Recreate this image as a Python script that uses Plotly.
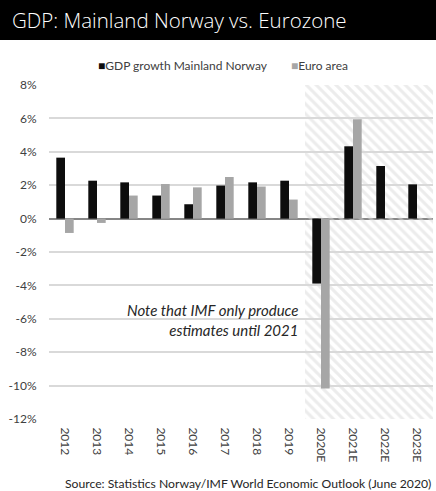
import plotly.graph_objects as go

categories = ["2012", "2013", "2014", "2015", "2016", "2017", "2018", "2019",
              "2020E", "2021E", "2022E", "2023E"]
norway = [3.65, 2.27, 2.17, 1.38, 0.86, 1.98, 2.17, 2.27, -3.89, 4.33, 3.15, 2.05]
euro = [-0.86, -0.26, 1.38, 2.07, 1.87, 2.49, 1.92, 1.14, -10.18, 5.95, None, None]
y_ticks = [8, 6, 4, 2, 0, -2, -4, -6, -8, -10, -12]
y_min, y_max = -12, 8

series_names = ["GDP growth Mainland Norway", "Euro area"]
series_colors = ["#0d0d0d", "#a6a6a6"]

title_text = "GDP: Mainland Norway vs. Eurozone"
note_text = "Note that IMF only produce<br>estimates until 2021"
source_text = "Source: Statistics Norway/IMF World Economic Outlook (June 2020)"

FONT = "Lato"
W, H = 436, 491
ML, MR, MT, MB = 49, 3, 85, 72
plot_w = W - ML - MR
plot_h = H - MT - MB

# forecast region derived from categories (those ending with 'E')
fc_idx = [i for i, c in enumerate(categories) if c.endswith("E")]

fig = go.Figure()

# hatched forecast background, drawn beneath the data bars
fig.add_trace(go.Bar(
    x=[categories[fc_idx[0]]], y=[y_max - y_min], base=[y_min],
    width=[len(fc_idx)], offset=[-0.5],
    alignmentgroup="bg", offsetgroup="bg",
    marker=dict(color="rgba(0,0,0,0)", line=dict(width=0),
                pattern=dict(shape="\\", fgcolor="#dadada", bgcolor="rgba(0,0,0,0)",
                             size=7, solidity=0.45, fillmode="overlay")),
    showlegend=False, hoverinfo="skip",
))

for name, vals, col in zip(series_names, [norway, euro], series_colors):
    fig.add_trace(go.Bar(x=categories, y=vals, name=name,
                         alignmentgroup="data", offsetgroup=name,
                         marker=dict(color=col, line=dict(width=0)),
                         showlegend=False))

legend_anns = []
for name, col, px in zip(series_names, series_colors, [96, 289]):
    legend_anns.append(dict(
        text=f"<span style='color:{col}'>■</span>{name}",
        xref="paper", yref="paper", x=(px - ML) / plot_w, xanchor="left",
        y=1 + (MT - 66) / plot_h, yanchor="middle", showarrow=False,
        font=dict(size=12, color="#404040")))

fig.update_layout(
    template="none",
    width=W, height=H,
    margin=dict(l=ML, r=MR, t=MT, b=MB, autoexpand=False),
    paper_bgcolor="white", plot_bgcolor="white",
    font=dict(family=FONT, size=12, color="#404040"),
    barmode="group", bargap=0.456, bargroupgap=0,
    showlegend=False,
    xaxis=dict(type="category", categoryorder="array", categoryarray=categories,
               range=[-0.5, len(categories) - 0.5], automargin=False,
               tickangle=90, showgrid=False, showline=False, zeroline=False,
               ticks="outside", ticklen=5, tickcolor="rgba(255,255,255,0)",
               tickfont=dict(size=12, color="#404040")),
    yaxis=dict(range=[y_min, y_max], tickvals=y_ticks, automargin=False,
               ticktext=[f"{v}%" for v in y_ticks],
               showgrid=True, gridcolor="#d9d9d9", gridwidth=1.5,
               zeroline=True, zerolinecolor="#868686", zerolinewidth=1.5,
               showline=False, ticks="outside", ticklen=9,
               tickcolor="rgba(255,255,255,0)",
               tickfont=dict(size=12, color="#404040")),
    title=dict(text=title_text, xref="container", yref="container",
               x=12 / W, xanchor="left", y=1 - 21 / H, yanchor="middle",
               font=dict(family="Open Sans", size=20.5, color="white", weight=300)),
    shapes=[dict(type="rect", xref="paper", yref="paper",
                 x0=-ML / plot_w, x1=1 + MR / plot_w,
                 y0=1 + (MT - 40) / plot_h, y1=1 + MT / plot_h,
                 fillcolor="black", line=dict(width=0), layer="below")],
    annotations=legend_anns + [
        dict(text=note_text, xref="paper", yref="y", x=(300 - ML) / plot_w,
             y=-6.05, xanchor="right", yanchor="middle", align="right",
             showarrow=False, font=dict(size=15, color="#262626", style="italic")),
        dict(text=source_text, xref="paper", yref="paper", x=1, xanchor="right",
             y=-(483 - (H - MB)) / plot_h, yanchor="middle", showarrow=False,
             font=dict(size=12.2, color="#262626")),
    ],
)

fig.write_html("out.html", config={"displayModeBar": False},
               post_script="document.body.style.margin='0';")
